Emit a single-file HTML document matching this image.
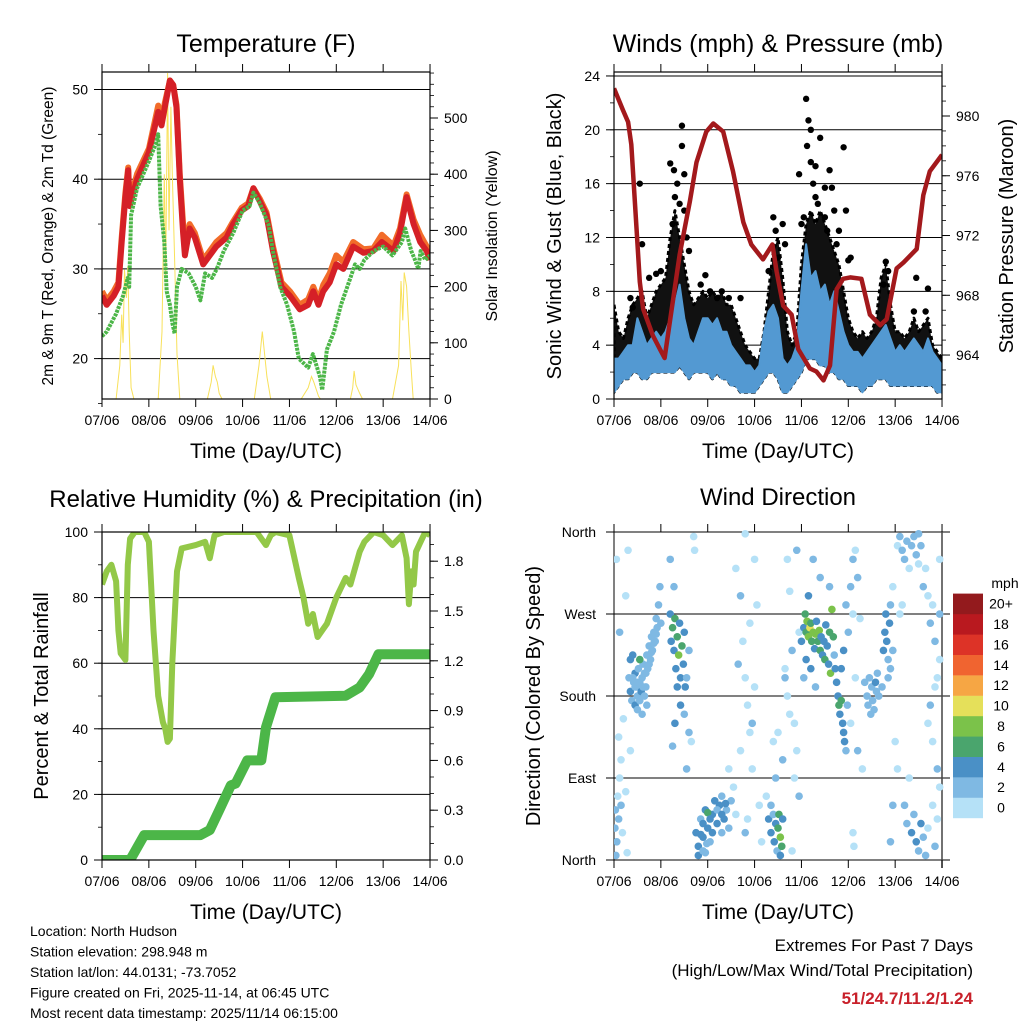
<!DOCTYPE html>
<html><head><meta charset="utf-8">
<style>
html,body{margin:0;padding:0;background:#fff;}
svg{display:block;font-family:"Liberation Sans",Arial,sans-serif;}
</style></head>
<body>
<svg id="fig" width="1024" height="1024" viewBox="0 0 1024 1024" xmlns="http://www.w3.org/2000/svg">
<defs>
<clipPath id="cT"><rect x="102" y="72" width="328" height="327"/></clipPath>
<clipPath id="cW"><rect x="614" y="72" width="328" height="327"/></clipPath>
<clipPath id="cR"><rect x="102" y="532" width="328" height="328"/></clipPath>
<clipPath id="cD"><rect x="614" y="528" width="330" height="336"/></clipPath>
</defs>
</svg>
<script>
// ---------- DATA ----------
const dayLabels=["07/06","08/06","09/06","10/06","11/06","12/06","13/06","14/06"];
const tempTicks=[20,30,40,50];
const solarTicks=[0,100,200,300,400,500];
const windTicks=[0,4,8,12,16,20,24];
const pressTicks=[964,968,972,976,980];
const rhTicks=[0,20,40,60,80,100];
const precipTicks=[0.0,0.3,0.6,0.9,1.2,1.5,1.8];
const dirTicks=[0,90,180,270,360];
const dirTickLabels=["North","East","South","West","North"];
const speedBins=["0","2","4","6","8","10","12","14","16","18","20+"];
const speedColors=["#b5e1f7","#7fb9e3","#4a90c6","#4aa56d","#7bc24a","#e5e05a","#f6a644","#f06430","#dd3327","#b9191f","#931a1d"];

const tempRed=[[0,27],[0.1,26],[0.25,27],[0.35,28],[0.42,33],[0.5,38],[0.56,41],[0.59,37],[0.75,40],[1.0,43],[1.2,47.5],[1.27,46],[1.34,48],[1.45,51],[1.52,50.5],[1.59,48],[1.66,40],[1.73,34],[1.77,31.5],[1.87,34.5],[1.98,33.5],[2.16,30.5],[2.3,31.5],[2.44,32.5],[2.66,33.5],[2.8,35],[2.98,36.5],[3.12,37],[3.23,39],[3.37,37.5],[3.51,36],[3.65,32],[3.83,28],[4.01,27],[4.22,25.5],[4.4,26],[4.51,27.5],[4.62,26],[4.72,27.5],[4.86,28.5],[5.0,30.5],[5.15,30],[5.36,32.5],[5.58,31.8],[5.79,32],[5.97,33],[6.22,32],[6.36,34],[6.5,38],[6.65,35],[6.79,33],[6.93,32],[7.0,31]];
const tempOrange=[[0,27.5],[0.1,26.5],[0.25,27.5],[0.35,28.5],[0.42,33.5],[0.5,38.5],[0.56,41.3],[0.59,37.5],[0.75,40.6],[1.0,43.4],[1.2,48.2],[1.27,46.5],[1.34,48.5],[1.45,51],[1.52,50.5],[1.59,48.3],[1.66,40.5],[1.73,35],[1.77,32.5],[1.87,35],[1.98,34],[2.16,31],[2.3,32],[2.44,33],[2.66,34],[2.8,35.3],[2.98,36.8],[3.12,37.3],[3.23,39],[3.37,37.8],[3.51,36.3],[3.65,32.5],[3.83,28.5],[4.01,27.5],[4.22,26],[4.4,26.6],[4.51,28],[4.62,26.5],[4.72,28.2],[4.86,29.5],[5.0,31.5],[5.15,30.8],[5.36,33],[5.58,32.2],[5.79,32.3],[5.97,33.8],[6.22,32.6],[6.36,34.5],[6.5,38.3],[6.65,35.5],[6.79,33.8],[6.93,32.5],[7.0,31.5]];
const dewPoint=[[0,22.5],[0.1,23],[0.3,25],[0.45,27],[0.55,29],[0.58,28],[0.62,36],[0.75,39],[1.0,42],[1.15,44],[1.2,45],[1.25,37],[1.33,33],[1.38,27.5],[1.45,26],[1.5,24],[1.55,22.8],[1.6,28],[1.7,30],[1.85,29.5],[2.0,28],[2.1,26.5],[2.2,29.5],[2.35,29],[2.45,30],[2.6,32],[2.8,34],[3.0,36.5],[3.15,37],[3.23,38.5],[3.35,37.5],[3.55,35],[3.65,32],[3.8,28],[3.95,26],[4.1,23],[4.2,20],[4.4,19],[4.5,20.5],[4.65,18],[4.7,16.5],[4.8,21],[4.95,23],[5.1,26],[5.3,29],[5.4,30.5],[5.5,30],[5.6,31],[5.8,32],[6.0,32.5],[6.2,31.5],[6.4,33],[6.47,34.5],[6.6,32],[6.68,31],[6.75,30],[6.8,32],[6.9,31],[7.0,31.5]];
const solar=[[0,0],[0.3,0],[0.38,60],[0.42,150],[0.45,100],[0.48,230],[0.52,180],[0.55,236],[0.58,120],[0.62,20],[0.68,0],[1.2,0],[1.28,120],[1.33,400],[1.36,220],[1.4,580],[1.43,300],[1.47,520],[1.5,400],[1.55,250],[1.6,80],[1.66,0],[2.25,0],[2.33,30],[2.37,60],[2.42,40],[2.46,30],[2.5,10],[2.56,0],[3.25,0],[3.35,60],[3.42,120],[3.47,80],[3.52,40],[3.6,0],[4.25,0],[4.4,20],[4.47,40],[4.52,30],[4.62,5],[4.66,0],[5.3,0],[5.35,20],[5.38,50],[5.42,25],[5.5,10],[5.56,0],[6.2,0],[6.33,60],[6.38,210],[6.42,140],[6.45,225],[6.5,200],[6.55,120],[6.6,50],[6.64,0],[7,0]];

const pressure=[[0,981.85],[0.19,980.4],[0.3,979.6],[0.37,978.1],[0.48,972.5],[0.55,968.9],[0.62,967.1],[0.83,965.3],[0.98,964.4],[1.08,963.8],[1.19,966.2],[1.4,970.7],[1.62,974.3],[1.76,976.9],[1.97,978.95],[2.12,979.5],[2.33,978.95],[2.54,976.3],[2.76,972.9],[2.93,971.4],[3.18,970.4],[3.38,971.4],[3.47,969.6],[3.61,967.3],[3.79,966.7],[3.93,964.4],[4.18,963.1],[4.32,962.9],[4.47,962.3],[4.61,963.3],[4.75,968.4],[4.89,969.1],[5.04,969.2],[5.28,969.1],[5.46,966.7],[5.68,966.0],[5.82,966.4],[6.03,969.8],[6.18,970.2],[6.46,971.1],[6.6,974.7],[6.74,976.3],[7.0,977.4]];
const windStep=0.1;
const windSpeed=[3,3,3.5,4,4,6,5,4,4.5,5,4.5,5,6,7,8.5,6,4.5,4,5,6,6,5.5,6,5,5,4,3.5,3,2.5,2.5,2,2.5,5,6.5,7,6,3,2.5,3,4,8,11.5,9,9.5,8,8.5,7,8,6.5,5,4,3.5,3.5,3,3.5,4,4.5,5,5.5,4.5,3.5,4,3.5,4,4.5,4,3.5,4.5,3.5,3,2.5];
const windFloor=[0.5,1,1.5,1.5,2,2,1.5,1.5,2,2,2,2,2,2,2.5,2,1.5,2,2,2,2,1.5,2,1.5,1.5,1,1,0.5,0.5,0.5,0.5,1,1.5,2,2,1.5,0.5,0.5,1,1.5,2,3,3,3,2.5,2.5,2,2,1.5,1.5,1,1,1,0.5,1,1,1.5,1.5,1.5,1,1,1,1,1,1,1,1,1,1,0.5,0.5];
const gustTop=[7,5,4.5,6,7,7.5,8,6,7,8,8.5,9,12,14,12,10,8,7,7.5,8,7.5,8,7.5,8,7,7,6,5,4,3.5,3,3,5,8,11,12,9,5,4,5,10,13,14,13,14,13,12,11,10,8,6,5,4.5,5,4.5,5,6,9,10,7,5,5,4.5,5,6,5,5.5,6,4,3.5,3];
const gustPeaks=[[0.55,16],[1.2,17.5],[1.28,17],[1.35,16],[1.45,20.3],[1.45,18.8],[1.5,16.7],[1.3,15],[1.25,13],[1.4,14.5],[1.5,14],[1.55,12],[1.6,11],[0.6,11.5],[0.75,9],[0.9,9.3],[1.0,9.5],[1.95,9.2],[2.3,8],[2.7,7.5],[3.4,13.5],[3.45,12.5],[3.5,10.5],[3.6,13],[3.65,11.5],[3.3,9.5],[3.95,16.7],[4.05,13.5],[4.1,22.3],[4.15,20.7],[4.2,20],[4.12,18.8],[4.2,17.6],[4.3,17.3],[4.4,19.4],[4.5,15.7],[4.6,17],[4.65,15.7],[4.9,18.7],[4.95,14],[4.3,15],[4.35,14.5],[4.5,13.5],[4.7,14],[4.8,12.5],[4.0,13],[4.25,16],[4.55,12.5],[4.75,11.5],[5.0,10.3],[5.05,10.5],[5.8,10.2],[5.85,9.5],[5.75,8.5],[6.45,9],[6.7,8.2],[6.65,6.5],[6.4,6.5],[2.05,8],[1.85,8.5],[2.2,7.5],[2.45,7.5],[0.35,7.5],[0.4,6.8]];

const relHum=[[0,84],[0.1,88],[0.2,90],[0.3,85],[0.35,70],[0.4,63],[0.5,61],[0.55,90],[0.6,98],[0.7,100],[0.9,100],[1.0,97],[1.1,70],[1.2,50],[1.3,42],[1.35,40],[1.4,36],[1.45,37],[1.5,60],[1.6,88],[1.7,95],[2.0,96],[2.2,97],[2.3,92],[2.4,99],[2.6,100],[3.0,100],[3.3,100],[3.5,96],[3.6,99],[3.7,100],[4.0,99],[4.2,86],[4.3,80],[4.4,72],[4.5,75],[4.6,68],[4.7,70],[4.8,72],[4.9,76],[5.0,80],[5.2,86],[5.3,84],[5.5,94],[5.6,97],[5.8,100],[6.0,99],[6.2,96],[6.4,99],[6.5,92],[6.55,78],[6.6,88],[6.65,84],[6.7,94],[6.8,97],[6.9,100],[7.0,99]];
const precip=[[0,0],[0.6,0],[0.9,0.15],[2.1,0.15],[2.3,0.18],[2.5,0.3],[2.75,0.45],[2.85,0.46],[3.1,0.6],[3.4,0.6],[3.5,0.8],[3.7,0.98],[5.2,0.99],[5.5,1.04],[5.7,1.12],[5.9,1.24],[7,1.24]];

const dirPoints=[[0.02,35,3],[0.03,55,3],[0.06,20,3],[0.08,70,1],[0.1,45,3],[0.12,90,1],[0.15,110,1],[0.1,135,1],[0.2,155,1],[0.05,330,1],[0.12,250,3],[0.25,290,1],[0.3,340,1],[0.18,30,1],[0.28,8,1],[0.04,5,3],[0.15,60,3],[0.35,120,1],[0.25,75,1],
[0.32,200,3],[0.35,185,5],[0.38,175,3],[0.42,195,3],[0.45,205,5],[0.48,190,3],[0.5,180,3],[0.52,210,3],[0.55,195,3],[0.58,185,5],[0.6,200,3],[0.62,215,3],[0.65,205,3],[0.68,190,3],[0.7,225,3],[0.72,210,3],[0.75,235,3],[0.78,220,3],[0.8,245,3],[0.82,230,3],[0.85,250,3],[0.88,240,3],[0.9,265,3],[0.92,255,3],[0.95,280,3],[0.98,300,3],[1.0,260,3],[0.55,220,7],[0.4,225,5],[0.35,220,5],[0.6,160,3],[0.7,170,3],[0.45,170,5],
[0.4,200,3],[0.45,190,3],[0.5,195,3],[0.55,175,3],[0.62,190,3],[0.68,205,3],[0.75,215,3],[0.8,228,3],[0.85,238,3],[0.9,248,3],[0.5,165,3],[0.65,180,3],
[1.2,270,5],[1.22,240,5],[1.25,255,7],[1.28,230,5],[1.3,265,7],[1.32,210,5],[1.35,245,7],[1.38,225,9],[1.4,260,5],[1.42,200,5],[1.45,235,7],[1.48,215,5],[1.5,250,5],[1.52,190,5],[1.42,170,5],[1.5,160,3],[1.55,200,3],[1.6,230,3],[1.3,150,5],[1.6,140,3],[1.25,125,3],[1.35,190,5],[1.28,300,3],[1.2,330,3],
[1.7,355,1],[1.72,340,1],[1.55,100,3],[1.65,130,1],
[1.75,30,5],[1.8,15,5],[1.85,45,3],[1.9,25,5],[1.95,55,5],[2.0,35,5],[2.05,20,3],[2.1,50,5],[2.15,65,5],[2.2,40,5],[2.25,60,5],[2.3,70,3],[2.35,45,5],[2.4,55,3],[2.45,35,3],[2.5,65,3],[1.8,5,5],[1.9,10,3],[2.0,52,7],[1.95,8,3],[2.3,30,3],[2.55,80,1],[2.6,50,1],[2.45,100,1],
[1.85,28,5],[1.9,40,5],[2.05,45,5],[2.1,30,5],[2.2,55,3],[2.3,50,5],[2.38,62,5],[1.98,18,3],
[2.6,320,1],[2.7,290,3],[2.75,240,1],[2.8,200,1],[2.85,170,1],[2.9,140,1],[2.7,120,1],[2.95,100,1],[3.0,330,1],[2.8,358,1],[2.9,260,1],[3.05,280,1],[3.0,190,1],[2.65,215,3],[2.95,150,3],[3.1,60,1],[3.15,20,1],[2.8,30,3],[2.85,45,1],
[3.3,45,5],[3.35,30,5],[3.4,50,3],[3.42,20,5],[3.45,40,5],[3.48,10,3],[3.5,35,7],[3.52,50,7],[3.55,25,9],[3.58,15,7],[3.6,45,5],[3.55,5,5],[3.35,60,3],[3.25,70,1],[3.6,110,3],[3.5,140,1],[3.4,130,1],[3.45,90,3],
[3.65,210,1],[3.7,180,1],[3.75,160,1],[3.8,230,3],[3.85,150,1],[3.9,120,1],[3.7,330,1],[3.75,295,1],[3.85,90,1],[3.95,70,3],[3.8,10,1],[3.9,340,3],[3.95,250,1],[3.65,200,3],
[4.0,240,5],[4.05,255,5],[4.08,270,7],[4.1,250,7],[4.12,262,9],[4.15,245,9],[4.18,255,11],[4.2,260,7],[4.22,240,7],[4.25,250,9],[4.28,232,5],[4.3,248,9],[4.32,262,5],[4.35,240,7],[4.38,252,9],[4.4,230,7],[4.42,245,5],[4.45,225,5],[4.48,240,5],[4.5,220,7],[4.52,258,5],[4.55,235,5],[4.58,215,5],[4.6,250,7],[4.62,205,9],[4.65,275,9],[4.68,245,7],[4.7,225,3],[4.1,220,5],[4.2,210,5],[4.05,200,3],[4.3,190,3],[4.15,290,5],[4.4,310,3],[4.25,330,3],[4.6,300,3],
[4.72,210,5],[4.75,195,5],[4.78,180,5],[4.8,170,7],[4.82,160,5],[4.85,175,7],[4.88,150,5],[4.9,140,5],[4.92,130,5],[4.95,120,3],[4.98,170,3],[4.85,210,5],[4.9,230,5],[5.0,250,3],[4.95,280,3],
[5.05,300,3],[5.1,330,3],[5.15,340,1],[5.2,310,3],[5.1,270,1],[5.25,265,1],[5.05,150,1],[5.15,200,1],[5.2,120,3],[5.3,100,1],[5.1,30,1],[5.12,15,1],
[5.35,195,3],[5.4,180,3],[5.42,170,3],[5.45,200,3],[5.5,190,3],[5.52,175,3],[5.55,165,3],[5.6,185,3],[5.62,205,3],[5.65,180,3],[5.48,160,3],[5.58,195,5],
[5.75,230,5],[5.78,250,5],[5.8,270,5],[5.82,240,5],[5.85,220,3],[5.88,260,5],[5.9,210,3],[5.95,230,3],[5.85,200,3],[5.72,190,3],[5.9,280,3],[5.95,300,1],[6.0,130,1],[5.95,60,3],[5.9,20,3],
[6.05,345,1],[6.1,355,3],[6.15,340,3],[6.2,330,3],[6.25,350,3],[6.3,320,1],[6.35,345,3],[6.4,355,3],[6.45,335,3],[6.5,325,1],[6.55,345,3],[6.6,300,3],[6.65,320,1],[6.7,290,1],[6.75,260,3],[6.8,280,1],[6.85,240,3],[6.9,200,1],[6.95,220,1],[6.7,150,1],[6.8,130,1],[6.9,100,3],[6.95,80,1],[6.2,60,3],[6.25,40,3],[6.35,30,5],[6.4,50,3],[6.45,20,5],[6.5,10,3],[6.55,40,5],[6.6,25,3],[6.65,5,3],[6.7,35,1],[6.85,15,3],[6.9,45,1],[6.3,90,1],[6.8,60,1],[6.75,170,3],[6.85,190,1],[6.95,270,3],[6.15,280,1],[6.1,270,1],[6.05,100,1],[6.95,330,1],[6.5,358,3]];

// ---------- SCALES ----------
const xL=d=>102+d*46.86, xRt=d=>614+d*46.86;
const yTemp=f=>358.6-(f-20)*8.97, ySol=s=>399-s*0.562;
const yWind=m=>399-m*13.46, yPres=p=>116+(980-p)*14.94;
const yRH=r=>860-r*3.28, yPrec=i=>860-i*166;
const yDir=g=>860-g*0.911;

const svg=document.getElementById('fig');
const NS="http://www.w3.org/2000/svg";
function mk(tag,attrs,parent){const e=document.createElementNS(NS,tag);for(const k in attrs)e.setAttribute(k,attrs[k]);(parent||svg).appendChild(e);return e;}
function txt(s,x,y,size,anchor,parent,extra){const e=mk('text',Object.assign({x:x,y:y,'font-size':size,'text-anchor':anchor||'middle',fill:'#000'},extra||{}),parent);e.textContent=s;return e;}
function pts(arr,fx,fy){return arr.map(p=>fx(p[0]).toFixed(1)+','+fy(p[1]).toFixed(1)).join(' ');}
function band(top,bottom,step){
  const up=top.map((v,i)=>xRt(i*step).toFixed(1)+','+yWind(v).toFixed(1));
  const dn=bottom.map((v,i)=>xRt(i*step).toFixed(1)+','+yWind(v).toFixed(1)).reverse();
  return up.concat(dn).join(' ');
}

function frame(x0,y0,x1,y1,name){
  const r=mk('rect',{x:x0,y:y0,width:x1-x0,height:y1-y0,fill:'none',stroke:'#000','stroke-width':1.2});
  
  
}
function xAxis(xf,y0,yTop,name){
  const g=mk('g',{});
  
  
  dayLabels.forEach((lab,i)=>{
    const x=xf(i);
    mk('line',{x1:x,x2:x,y1:y0,y2:y0+8,stroke:'#000','stroke-width':1},g);
    mk('line',{x1:x,x2:x,y1:yTop,y2:yTop-8,stroke:'#000','stroke-width':1},g);
    const t=txt(lab,x,y0+26,14,'middle',g);
    
    
  });
}
function yAxisTicks(vals,yf,x,side,fmt,name,minorStep,lo,hi){
  const g=mk('g',{});
  
  
  const dir=side==='left'?-1:1;
  if(minorStep){for(let v=lo;v<=hi+1e-9;v+=minorStep){const y=yf(v);mk('line',{x1:x,x2:x+dir*4,y1:y,y2:y,stroke:'#000','stroke-width':0.8},g);}}
  vals.forEach(v=>{
    const y=yf(v);
    mk('line',{x1:x,x2:x+dir*8,y1:y,y2:y,stroke:'#000','stroke-width':1},g);
    const t=txt(fmt(v),x+dir*14,y+5,14,side==='left'?'end':'start',g);
    
    
  });
}
function grid(vals,yf,x0,x1,name){
  const g=mk('g',{});
  
  
  vals.forEach(v=>{const y=yf(v);mk('line',{x1:x0,x2:x1,y1:y,y2:y,stroke:'#000','stroke-width':1},g);});
}
function label(s,x,y,size,rot,name){
  const t=txt(s,x,y,size,'middle',svg,rot?{transform:'rotate(-90 '+x+' '+y+')'}:{});
  
  
}

// ---------- PANEL 1: TEMPERATURE ----------
grid(tempTicks,yTemp,102,430,'temp-gridlines');
let gT=mk('g',{'clip-path':'url(#cT)'});


let e=mk('polyline',{points:pts(solar,xL,ySol),fill:'none',stroke:'#f8e15a','stroke-width':1},gT);


e=mk('polyline',{points:pts(tempOrange,xL,yTemp),fill:'none',stroke:'#f26c2a','stroke-width':6,'stroke-linejoin':'round'},gT);


e=mk('polyline',{points:pts(tempRed,xL,yTemp),fill:'none',stroke:'#d52027','stroke-width':6,'stroke-linejoin':'round'},gT);


e=mk('polyline',{points:pts(dewPoint,xL,yTemp),fill:'none',stroke:'#4cb648','stroke-width':4,'stroke-dasharray':'3 1','stroke-linejoin':'round'},gT);


frame(102,72,430,399,'temperature-frame');
xAxis(xL,399,72,'temp-x-axis');
yAxisTicks(tempTicks,yTemp,102,'left',v=>v,'temp-y-axis',5,15,50);
yAxisTicks(solarTicks,ySol,430,'right',v=>v,'solar-y-axis',20,0,580);
label('Temperature (F)',266,52,25,false,'temperature-title');
label('2m & 9m T (Red, Orange) & 2m Td (Green)',53,236,15.5,true,'temperature-y-title');
label('Solar Insolation (Yellow)',497,236,16,true,'solar-y-title');
label('Time (Day/UTC)',266,458,21,false,'temperature-x-title');

// ---------- PANEL 2: WINDS ----------
grid(windTicks,yWind,614,942,'wind-gridlines');
let gW=mk('g',{'clip-path':'url(#cW)'});


e=mk('polygon',{points:band(gustTop,windFloor,windStep),fill:'#111',stroke:'#000','stroke-width':3,'stroke-dasharray':'4 3','stroke-linejoin':'round'},gW);


gustPeaks.forEach(p=>{
  const c=mk('circle',{cx:xRt(p[0]),cy:yWind(p[1]),r:3.2,fill:'#000'},gW);
  
  
});
e=mk('polygon',{points:band(windSpeed,windFloor,windStep),fill:'#5399d2',stroke:'#5399d2','stroke-width':2,'stroke-linejoin':'round'},gW);


e=mk('polyline',{points:pts(pressure,xRt,yPres),fill:'none',stroke:'#a3191c','stroke-width':4.5,'stroke-linejoin':'round'},gW);


frame(614,72,942,399,'winds-frame');
xAxis(xRt,399,72,'winds-x-axis');
yAxisTicks(windTicks,yWind,614,'left',v=>v,'wind-y-axis',2,0,24);
yAxisTicks(pressTicks,yPres,942,'right',v=>v,'pressure-y-axis',1,962,982);
label('Winds (mph) & Pressure (mb)',778,52,25,false,'winds-title');
label('Sonic Wind & Gust (Blue, Black)',561,236,20,true,'wind-y-title');
label('Station Pressure (Maroon)',1013,236,20,true,'pressure-y-title');
label('Time (Day/UTC)',778,458,21,false,'winds-x-title');

// ---------- PANEL 3: RH & PRECIP ----------
grid(rhTicks,yRH,102,430,'rh-gridlines');
let gR=mk('g',{'clip-path':'url(#cR)'});


e=mk('polyline',{points:pts(relHum,xL,yRH),fill:'none',stroke:'#93c848','stroke-width':6,'stroke-linejoin':'round'},gR);


e=mk('polyline',{points:pts(precip,xL,yPrec),fill:'none',stroke:'#4cb648','stroke-width':10,'stroke-linejoin':'round','stroke-linecap':'round'},gR);


frame(102,532,430,860,'rh-frame');
xAxis(xL,860,532,'rh-x-axis');
yAxisTicks(rhTicks,yRH,102,'left',v=>v,'rh-y-axis',10,0,100);
yAxisTicks(precipTicks,yPrec,430,'right',v=>v.toFixed(1),'precip-y-axis',0.1,0,1.9);
label('Relative Humidity (%) & Precipitation (in)',266,507,24,false,'rh-title');
label('Percent & Total Rainfall',48,696,20,true,'rh-y-title');
label('Time (Day/UTC)',266,919,21,false,'rh-x-title');

// ---------- PANEL 4: WIND DIRECTION ----------
let gDg=mk('g',{});


dirTicks.forEach(v=>{mk('line',{x1:606,x2:950,y1:yDir(v),y2:yDir(v),stroke:'#000','stroke-width':1},gDg);});
mk('line',{x1:614,x2:614,y1:532,y2:868,stroke:'#000','stroke-width':1},gDg);
mk('line',{x1:942,x2:942,y1:532,y2:868,stroke:'#444','stroke-width':1.5},gDg);
let gD=mk('g',{'clip-path':'url(#cD)'});


dirPoints.forEach(p=>{
  const bin=Math.min(10,Math.floor(p[2]/2));
  const c=mk('circle',{cx:xRt(p[0]),cy:yDir(p[1]),r:3.8,fill:speedColors[bin]},gD);
  
  
});
let gDx=mk('g',{});


dayLabels.forEach((lab,i)=>{
  const x=xRt(i);
  mk('line',{x1:x,x2:x,y1:860,y2:868,stroke:'#000'},gDx);
  mk('line',{x1:x,x2:x,y1:532,y2:524,stroke:'#000'},gDx);
  const t=txt(lab,x,886,14,'middle',gDx);
  
  
});
dirTicks.forEach((v,i)=>{
  const t=txt(dirTickLabels[i],596,yDir(v)+5,14,'end');
  
  
});
label('Wind Direction',778,505,24,false,'direction-title');
label('Direction (Colored By Speed)',540,696,20,true,'direction-y-title');
label('Time (Day/UTC)',778,919,21,false,'direction-x-title');

// colorbar
let gC=mk('g',{});


speedColors.forEach((c,i)=>{
  const y=818-(i+1)*20.4;
  const r=mk('rect',{x:953,y:y,width:30,height:20.6,fill:c},gC);
  
  
  const t=txt(speedBins[i],1001,y+15,14,'middle',gC);
  
  
});
e=txt('mph',1005,588,14,'middle');



// ---------- FOOTER TEXT ----------
const info=["Location: North Hudson","Station elevation: 298.948 m","Station lat/lon: 44.0131; -73.7052","Figure created on Fri, 2025-11-14, at 06:45 UTC","Most recent data timestamp: 2025/11/14 06:15:00"];
info.forEach((s,i)=>{
  const t=txt(s,30,936+i*20.5,14,'start');
  
  
});
e=txt('Extremes For Past 7 Days',973,951,17,'end');


e=txt('(High/Low/Max Wind/Total Precipitation)',973,976,17,'end');


e=txt('51/24.7/11.2/1.24',973,1004,17,'end',svg,{'font-weight':'bold',fill:'#c8202a'});


</script>
</body></html>
